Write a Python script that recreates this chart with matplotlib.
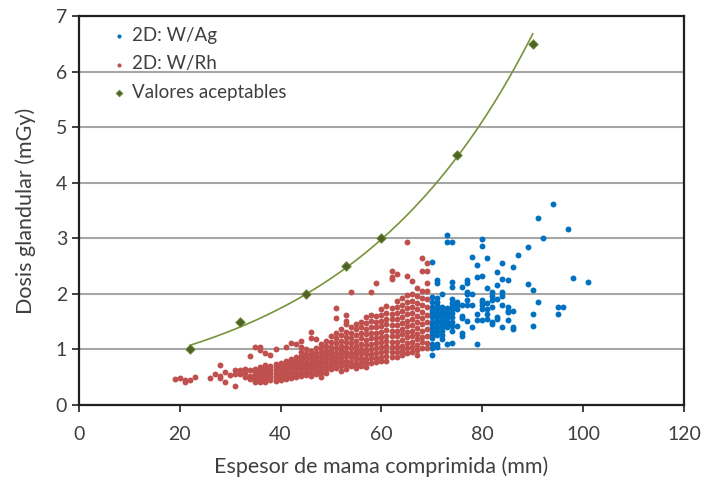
import numpy as np
import matplotlib
matplotlib.use("Agg")
import matplotlib.pyplot as plt

# Datos: espesor (mm) por columna y dosis (mGy) en cada columna
rh_espesor = [19, 20, 21, 22, 23, 26, 27, 28, 29, 30, 31, 32, 33, 34, 35, 36, 37, 38, 39, 40,
              41, 42, 43, 44, 45, 46, 47, 48, 49, 50, 51, 52, 53, 54, 55, 56, 57, 58, 59, 60,
              61, 62, 63, 64, 65, 66, 67, 68, 69]
rh_dosis = [
    [0.46], [0.48], [0.45, 0.41], [0.45], [0.50], [0.48], [0.56],
    [0.72, 0.52, 0.48], [0.60, 0.42], [0.54], [0.63, 0.56, 0.34], [0.63, 0.56],
    [0.64, 0.57, 0.50], [0.88, 0.63, 0.52, 0.46],
    [1.04, 0.65, 0.60, 0.55, 0.51, 0.46, 0.42],
    [1.04, 0.99, 0.69, 0.64, 0.59, 0.55, 0.50, 0.46, 0.42],
    [0.94, 0.72, 0.67, 0.62, 0.57, 0.52, 0.47, 0.42],
    [0.90, 0.70, 0.65, 0.60, 0.55, 0.50, 0.45],
    [1.00, 0.74, 0.68, 0.63, 0.58, 0.53, 0.48, 0.44],
    [0.76, 0.70, 0.65, 0.60, 0.55, 0.50, 0.45],
    [1.04, 0.80, 0.74, 0.68, 0.62, 0.57, 0.52, 0.47],
    [1.12, 0.82, 0.76, 0.70, 0.64, 0.58, 0.53, 0.48],
    [1.10, 0.86, 0.79, 0.72, 0.66, 0.60, 0.55, 0.50],
    [1.15, 1.05, 0.95, 0.88, 0.82, 0.76, 0.70, 0.64, 0.58, 0.52],
    [1.00, 0.92, 0.85, 0.78, 0.72, 0.66, 0.60, 0.54],
    [1.32, 1.20, 0.98, 0.90, 0.83, 0.76, 0.70, 0.64, 0.58, 0.52],
    [1.18, 1.02, 0.94, 0.87, 0.80, 0.74, 0.68, 0.62, 0.56],
    [1.10, 1.02, 0.95, 0.88, 0.81, 0.75, 0.69, 0.63, 0.57, 0.50],
    [1.15, 1.06, 0.98, 0.91, 0.84, 0.77, 0.70, 0.64, 0.58],
    [1.24, 1.14, 1.05, 0.97, 0.90, 0.83, 0.76, 0.70, 0.64],
    [1.74, 1.57, 1.30, 1.20, 1.11, 1.02, 0.94, 0.87, 0.80, 0.73, 0.66],
    [1.36, 1.26, 1.16, 1.07, 0.99, 0.91, 0.84, 0.77, 0.70, 0.62],
    [1.62, 1.52, 1.46, 1.32, 1.22, 1.13, 1.04, 0.96, 0.88, 0.80, 0.72, 0.65],
    [2.03, 1.40, 1.30, 1.20, 1.11, 1.02, 0.94, 0.86, 0.78, 0.70],
    [1.45, 1.36, 1.26, 1.16, 1.07, 0.98, 0.90, 0.82, 0.74, 0.66],
    [1.50, 1.40, 1.30, 1.20, 1.10, 1.01, 0.93, 0.85, 0.77, 0.70],
    [1.59, 1.48, 1.37, 1.27, 1.17, 1.08, 0.99, 0.91, 0.83, 0.75, 0.69],
    [2.03, 1.62, 1.51, 1.40, 1.30, 1.20, 1.10, 1.01, 0.92, 0.84, 0.76],
    [2.19, 1.60, 1.50, 1.40, 1.30, 1.20, 1.11, 1.02, 0.93, 0.85, 0.78],
    [1.72, 1.62, 1.52, 1.42, 1.32, 1.22, 1.13, 1.04, 0.95, 0.87, 0.80],
    [1.78, 1.66, 1.55, 1.45, 1.35, 1.25, 1.15, 1.06, 0.97, 0.88, 0.80],
    [2.41, 2.30, 2.27, 1.75, 1.64, 1.54, 1.44, 1.34, 1.24, 1.14, 1.04, 0.95, 0.86],
    [2.35, 1.88, 1.76, 1.65, 1.54, 1.44, 1.34, 1.24, 1.14, 1.04, 0.95, 0.87],
    [1.92, 1.80, 1.69, 1.58, 1.47, 1.37, 1.27, 1.17, 1.07, 0.98, 0.90],
    [2.93, 2.32, 1.98, 1.85, 1.74, 1.63, 1.52, 1.42, 1.32, 1.22, 1.12, 1.03, 0.94],
    [2.23, 2.00, 1.88, 1.76, 1.65, 1.54, 1.44, 1.34, 1.24, 1.14, 1.05, 0.96],
    [2.10, 1.96, 1.84, 1.72, 1.60, 1.49, 1.38, 1.28, 1.18, 1.08, 0.99, 0.90],
    [2.65, 2.41, 2.05, 1.92, 1.80, 1.68, 1.56, 1.45, 1.34, 1.23, 1.13, 1.03],
    [2.55, 2.41, 2.20, 2.05, 1.90, 1.76, 1.62, 1.49, 1.36, 1.24, 1.12, 1.02],
]

ag_espesor = [70, 71, 72, 73, 74, 75, 76, 77, 78, 79, 80, 81, 82, 83, 84, 85, 86, 87,
              89, 90, 91, 92, 94, 95, 96, 97, 98, 101]
ag_dosis = [
    [2.58, 1.94, 1.86, 1.77, 1.70, 1.64, 1.59, 1.50, 1.44, 1.38, 1.32, 1.26, 1.20, 1.10, 1.02, 0.90],
    [2.25, 2.19, 1.93, 1.86, 1.80, 1.73, 1.66, 1.60, 1.53, 1.47, 1.40, 1.33, 1.26, 1.10, 1.05],
    [2.00, 1.76, 1.70, 1.64, 1.58, 1.52, 1.46, 1.40, 1.33, 1.26, 1.19],
    [3.06, 2.94, 1.74, 1.68, 1.62, 1.56, 1.50, 1.45, 1.41, 1.10],
    [2.94, 2.22, 2.13, 1.90, 1.84, 1.78, 1.72, 1.65, 1.58, 1.50, 1.42, 1.34, 1.12],
    [1.85, 1.80, 1.72, 1.42],
    [2.12, 1.80, 1.60, 1.57, 1.29, 1.24],
    [2.25, 2.19, 2.04, 2.00, 1.89, 1.80, 1.52],
    [2.66, 2.00, 1.80, 1.41],
    [2.51, 2.31, 1.63, 1.53, 1.09],
    [2.98, 2.86, 2.32, 1.89, 1.86, 1.80, 1.73, 1.53],
    [2.64, 2.11, 1.84, 1.72, 1.64, 1.55],
    [2.04, 1.96, 1.89, 1.77, 1.50, 1.46],
    [2.39, 2.16, 1.91, 1.59, 1.54],
    [2.55, 2.27, 2.04, 1.96, 1.80, 1.41],
    [2.24, 1.76, 1.70, 1.67, 1.53],
    [2.48, 1.70, 1.41, 1.36],
    [2.70],
    [2.84, 2.17],
    [2.07, 1.63, 1.43],
    [3.36, 1.85],
    [3.00],
    [3.62],
    [1.77, 1.64],
    [1.76],
    [3.17],
    [2.29],
    [2.22],
]

acept_espesor = [22, 32, 45, 53, 60, 75, 90]
acept_dosis = [1.0, 1.5, 2.0, 2.5, 3.0, 4.5, 6.5]

# aplanar columnas
x_rh = [x for x, col in zip(rh_espesor, rh_dosis) for _ in col]
y_rh = [v for col in rh_dosis for v in col]
x_ag = [x for x, col in zip(ag_espesor, ag_dosis) for _ in col]
y_ag = [v for col in ag_dosis for v in col]

plt.rcParams['font.family'] = ['Lato', 'DejaVu Sans']
gris = '#3f3f3f'

fig = plt.figure(figsize=(7.04, 4.83), dpi=100)
ax = fig.add_axes([0.112, 0.1615, 0.8596, 0.8055])

ax.scatter(x_ag, y_ag, s=18, color='#0070C0', label='2D: W/Ag', zorder=3, linewidths=0)
ax.scatter(x_rh, y_rh, s=18, color='#C0504D', label='2D: W/Rh', zorder=3, linewidths=0)

# linea de tendencia exponencial
b, a = np.polyfit(acept_espesor, np.log(acept_dosis), 1)
xt = np.linspace(min(acept_espesor), max(acept_espesor), 200)
ax.plot(xt, np.exp(a) * np.exp(b * xt), color='#77933C', lw=1.2, zorder=2)
ax.scatter(acept_espesor, acept_dosis, marker='D', s=24, color='#4F6228',
           edgecolors='#77933C', linewidths=0.6, label='Valores aceptables', zorder=4)

ax.set_xlim(0, 120)
ax.set_ylim(0, 7)
ax.set_xticks(range(0, 121, 20))
ax.set_yticks(range(0, 8))
ax.grid(axis='y', color='#a6a6a6', lw=1.5)
ax.set_axisbelow(True)
for s in ax.spines.values():
    s.set_linewidth(1.6)
    s.set_color('#202020')
ax.tick_params(direction='out', length=5, width=1.2, labelsize=14, colors='#202020',
               labelcolor=gris)
ax.tick_params(axis='x', pad=10)
ax.set_xlabel('Espesor de mama comprimida (mm)', fontsize=15.5, color=gris, labelpad=10)
ax.set_ylabel('Dosis glandular (mGy)', fontsize=15.5, color=gris, labelpad=14)

leg = ax.legend(loc='upper left', frameon=False, fontsize=13.5, markerscale=0.7,
                handlelength=0.8, handletextpad=0.3, labelspacing=0.6,
                borderaxespad=0.2, bbox_to_anchor=(0.035, 1.0))
for t in leg.get_texts():
    t.set_color(gris)

fig.savefig('out.png', dpi=100)
